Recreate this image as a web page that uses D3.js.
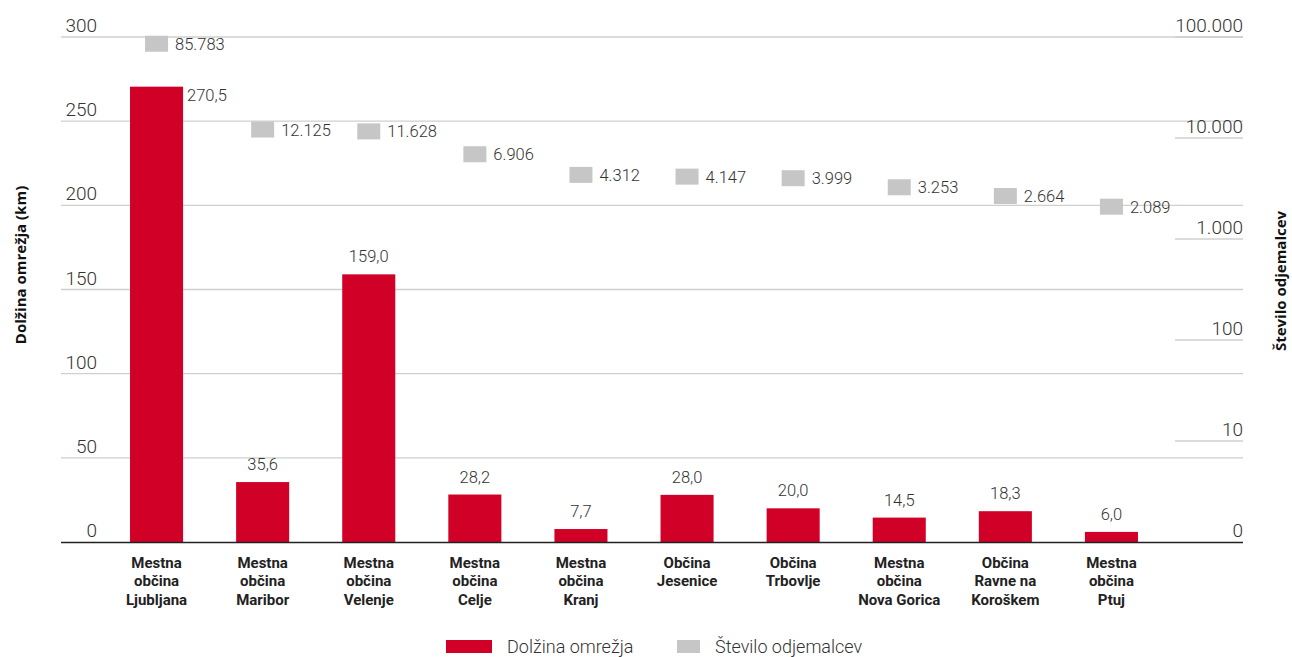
<!DOCTYPE html>
<html>
<head>
<meta charset="utf-8">
<script src="https://cdn.jsdelivr.net/npm/d3@7"></script>
<style>
  html, body { margin: 0; padding: 0; background: #fff; }
  svg { display: block; }
  text { font-family: Roboto, "DejaVu Sans", sans-serif; }
</style>
</head>
<body>
<svg id="chart" width="1292" height="657"></svg>
<script>
// ---- data ----
const categories = [
  ["Mestna", "občina", "Ljubljana"],
  ["Mestna", "občina", "Maribor"],
  ["Mestna", "občina", "Velenje"],
  ["Mestna", "občina", "Celje"],
  ["Mestna", "občina", "Kranj"],
  ["Občina", "Jesenice"],
  ["Občina", "Trbovlje"],
  ["Mestna", "občina", "Nova Gorica"],
  ["Občina", "Ravne na", "Koroškem"],
  ["Mestna", "občina", "Ptuj"]
];
const networkLength = [270.5, 35.6, 159.0, 28.2, 7.7, 28.0, 20.0, 14.5, 18.3, 6.0];
const customers = [85783, 12125, 11628, 6906, 4312, 4147, 3999, 3253, 2664, 2089];
const leftTicks = [0, 50, 100, 150, 200, 250, 300];
const rightTicks = [1, 10, 100, 1000, 10000, 100000];
const rightTickLabels = ["0", "10", "100", "1.000", "10.000", "100.000"];
const seriesNames = ["Dolžina omrežja", "Število odjemalcev"];
const axisTitles = ["Dolžina omrežja (km)", "Število odjemalcev"];

// ---- layout ----
const RED = "#d00027", GREY = "#c6c6c6", TEXT = "#333";
const plotLeft = 61, plotRight = 1243, plotTop = 37, plotBottom = 542;

const svg = d3.select("#chart");

const x = d3.scaleBand()
  .domain(d3.range(categories.length))
  .range([103.5, 1164.5])
  .paddingInner(0.5)
  .paddingOuter(0.25);

const yL = d3.scaleLinear().domain([0, 300]).range([plotBottom, plotTop]);
const yR = d3.scaleLog().domain([1, 100000]).range([plotBottom, plotTop]);

const fmtComma = v => d3.format(".1f")(v).replace(".", ",");
const fmtDot = v => d3.format(",")(v).replace(/,/g, ".");

// left gridlines
const gL = svg.append("g");
gL.selectAll("line").data(leftTicks.filter(t => t > 0)).join("line")
  .attr("x1", plotLeft).attr("x2", plotRight)
  .attr("y1", d => yL(d)).attr("y2", d => yL(d))
  .attr("stroke", "#cfcfcf").attr("stroke-width", 1.3);
gL.selectAll("text").data(leftTicks).join("text")
  .attr("x", 97).attr("y", d => yL(d) - 5)
  .attr("text-anchor", "end")
  .attr("font-size", 19).attr("font-weight", 300).attr("fill", TEXT)
  .text(d => d);

// right axis ticks (short underlines)
const gR = svg.append("g");
gR.selectAll("line").data(rightTicks.filter(t => t > 1)).join("line")
  .attr("x1", 1175).attr("x2", plotRight)
  .attr("y1", d => yR(d)).attr("y2", d => yR(d))
  .attr("stroke", "#cfcfcf").attr("stroke-width", 1.3);
gR.selectAll("text").data(rightTicks).join("text")
  .attr("x", plotRight).attr("y", d => yR(d) - 5)
  .attr("text-anchor", "end")
  .attr("font-size", 19).attr("font-weight", 300).attr("fill", TEXT)
  .text((d, i) => rightTickLabels[i]);

// bars
const bw = x.bandwidth();
svg.append("g").selectAll("rect").data(networkLength).join("rect")
  .attr("x", (d, i) => x(i))
  .attr("y", d => yL(d))
  .attr("width", bw)
  .attr("height", d => yL(0) - yL(d))
  .attr("fill", RED);

// baseline
svg.append("line")
  .attr("x1", plotLeft).attr("x2", plotRight)
  .attr("y1", plotBottom + 0.5).attr("y2", plotBottom + 0.5)
  .attr("stroke", "#222").attr("stroke-width", 1.5);

// bar value labels
svg.append("g").selectAll("text").data(networkLength).join("text")
  .attr("x", (d, i) => d > 250 ? x(i) + bw + 4 : x(i) + bw / 2)
  .attr("y", d => d > 250 ? yL(d) + 14 : yL(d) - 12)
  .attr("text-anchor", d => d > 250 ? "start" : "middle")
  .attr("font-size", 16.5).attr("font-weight", 300).attr("fill", TEXT)
  .text(d => fmtComma(d));

// customer markers
const mw = 23, mh = 16;
const gM = svg.append("g");
gM.selectAll("rect").data(customers).join("rect")
  .attr("x", (d, i) => x(i) + bw / 2 - mw / 2)
  .attr("y", d => yR(d) - mh / 2)
  .attr("width", mw).attr("height", mh)
  .attr("fill", GREY);
gM.selectAll("text").data(customers).join("text")
  .attr("x", (d, i) => x(i) + bw / 2 + mw / 2 + 7)
  .attr("y", d => yR(d) + 6)
  .attr("font-size", 16.5).attr("font-weight", 300).attr("fill", TEXT)
  .text(d => fmtDot(d));

// category labels
const gC = svg.append("g");
categories.forEach((lines, i) => {
  const t = gC.append("text")
    .attr("x", x(i) + bw / 2).attr("y", 568)
    .attr("text-anchor", "middle")
    .attr("font-size", 15).attr("font-weight", 700).attr("fill", "#222");
  lines.forEach((ln, j) => {
    t.append("tspan").attr("x", x(i) + bw / 2).attr("dy", j === 0 ? 0 : 18.3).text(ln);
  });
});

// axis titles
svg.append("text")
  .attr("transform", "translate(26,265) rotate(-90)")
  .attr("text-anchor", "middle")
  .style("font-family", "'Open Sans', sans-serif")
  .attr("font-size", 15).attr("font-weight", 700).attr("fill", "#111")
  .text(axisTitles[0]);
svg.append("text")
  .attr("transform", "translate(1286,281) rotate(-90)")
  .attr("text-anchor", "middle")
  .style("font-family", "'Open Sans', sans-serif")
  .attr("font-size", 15).attr("font-weight", 700).attr("fill", "#111")
  .text(axisTitles[1]);

// legend
const lg = svg.append("g");
lg.append("rect").attr("x", 446).attr("y", 640).attr("width", 46).attr("height", 13).attr("fill", RED);
lg.append("text").attr("x", 507).attr("y", 653)
  .attr("font-size", 18).attr("font-weight", 300).attr("fill", TEXT).text(seriesNames[0]);
lg.append("rect").attr("x", 677).attr("y", 640).attr("width", 23).attr("height", 13).attr("fill", GREY);
lg.append("text").attr("x", 715).attr("y", 653)
  .attr("font-size", 18).attr("font-weight", 300).attr("fill", TEXT).text(seriesNames[1]);
</script>
</body>
</html>
